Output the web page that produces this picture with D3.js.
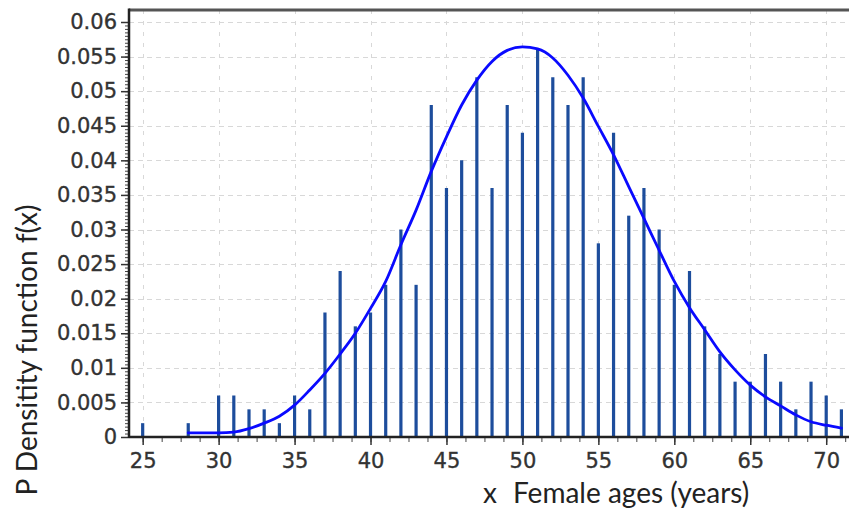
<!DOCTYPE html>
<html>
<head>
<meta charset="utf-8">
<script src="https://cdn.jsdelivr.net/npm/d3@7"></script>
<style>
  html, body { margin: 0; padding: 0; background: #fff; }
  svg { display: block; }
</style>
</head>
<body>
<svg id="chart" width="849" height="510"></svg>
<script>
// ---- data ----
const ages = [25, 28, 30, 31, 32, 33, 34, 35, 36, 37, 38, 39, 40, 41, 42, 43, 44, 45, 46, 47, 48,
  49, 50, 51, 52, 53, 54, 55, 56, 57, 58, 59, 60, 61, 62, 63, 64, 65, 66, 67, 68, 69, 70, 71];
const density = [0.002, 0.002, 0.006, 0.006, 0.004, 0.004, 0.002, 0.006, 0.004, 0.018, 0.024,
  0.016, 0.018, 0.022, 0.030, 0.022, 0.048, 0.036, 0.040, 0.052, 0.036, 0.048, 0.044, 0.056,
  0.052, 0.048, 0.052, 0.028, 0.044, 0.032, 0.036, 0.030, 0.022, 0.024, 0.016, 0.012, 0.008,
  0.008, 0.012, 0.008, 0.004, 0.008, 0.006, 0.004];
const curveX = [28, 29, 30, 31, 32, 33, 34, 35, 36, 37, 38, 39, 40, 41, 42, 43, 44, 45, 46, 47, 48,
  49, 50, 51, 52, 53, 54, 55, 56, 57, 58, 59, 60, 61, 62, 63, 64, 65, 66, 67, 68, 69, 70, 71];
const curveY = [0.0006, 0.0006, 0.0006, 0.0007, 0.0012, 0.0020, 0.0030, 0.0046, 0.0068, 0.0092,
  0.0120, 0.0150, 0.0186, 0.0225, 0.0278, 0.0328, 0.0384, 0.0434, 0.0480, 0.0516, 0.0543, 0.0559,
  0.0564, 0.0561, 0.0548, 0.0523, 0.0490, 0.0449, 0.0408, 0.0362, 0.0316, 0.0270, 0.0225, 0.0187,
  0.0155, 0.0123, 0.0097, 0.0075, 0.0058, 0.0045, 0.0032, 0.0022, 0.0017, 0.0013];
const xTicks = [25, 30, 35, 40, 45, 50, 55, 60, 65, 70];
const yTicks = [0, 0.005, 0.01, 0.015, 0.02, 0.025, 0.03, 0.035, 0.04, 0.045, 0.05, 0.055, 0.06];
const yTickLabels = ["0", "0.005", "0.01", "0.015", "0.02", "0.025", "0.03", "0.035", "0.04",
  "0.045", "0.05", "0.055", "0.06"];
const yTitle = "P Densitity function f(x)";
const xTitleVar = "x";
const xTitle = "Female ages (years)";

// ---- layout ----
const svg = d3.select("#chart");
const pLeft = 129, pRight = 849, pTop = 10, pBottom = 437;
const x = d3.scaleLinear().domain([24.1, 71.5]).range([pLeft, pRight]);
const y = d3.scaleLinear().domain([0, 0.06]).range([pBottom, 22]);

const labelFont = "'DejaVu Sans', Verdana, sans-serif";
const titleFont = "Lato, 'Open Sans', sans-serif";

// grid
const grid = svg.append("g");
grid.selectAll("line.h").data(yTicks.slice(1)).join("line")
  .attr("x1", pLeft).attr("x2", pRight)
  .attr("y1", d => Math.round(y(d)) + 0.5).attr("y2", d => Math.round(y(d)) + 0.5)
  .attr("stroke", "#d8d8d8").attr("stroke-width", 1).attr("stroke-dasharray", "5,4");
grid.selectAll("line.v").data(xTicks).join("line")
  .attr("x1", d => Math.round(x(d)) + 0.5).attr("x2", d => Math.round(x(d)) + 0.5)
  .attr("y1", pTop).attr("y2", pBottom)
  .attr("stroke", "#d8d8d8").attr("stroke-width", 1).attr("stroke-dasharray", "4,7");

// bars
svg.append("g").selectAll("line").data(ages).join("line")
  .attr("x1", d => x(d)).attr("x2", d => x(d))
  .attr("y1", y(0)).attr("y2", (d, i) => y(density[i]))
  .attr("stroke", "#1d4d9c").attr("stroke-width", 3.2);

// curve
const pts = curveX.map((d, i) => [d, curveY[i]]);
svg.append("path").datum(pts)
  .attr("fill", "none").attr("stroke", "#0a0aff").attr("stroke-width", 2.8)
  .attr("stroke-linejoin", "round").attr("stroke-linecap", "round")
  .attr("d", d3.line().x(d => x(d[0])).y(d => y(d[1])).curve(d3.curveMonotoneX));

// top border
svg.append("line").attr("x1", pLeft).attr("x2", pRight).attr("y1", pTop).attr("y2", pTop)
  .attr("stroke", "#555").attr("stroke-width", 3);

// y axis minor ticks
const yMinor = d3.range(0, 121).map(i => i * 0.0005);
svg.append("g").attr("transform", `translate(${pLeft},0)`)
  .call(d3.axisLeft(y).tickValues(yMinor).tickSize(4).tickFormat(""))
  .call(g => g.select(".domain").remove())
  .call(g => g.selectAll("line").attr("stroke", "#444"));
// y axis major
const yAx = svg.append("g").attr("transform", `translate(${pLeft},0)`)
  .call(d3.axisLeft(y).tickValues(yTicks).tickSize(8).tickPadding(4)
    .tickFormat((d, i) => yTickLabels[i]))
  .call(g => g.select(".domain").remove());
yAx.selectAll("line").attr("stroke", "#333").attr("stroke-width", 1.5);
yAx.selectAll("text").attr("font-family", labelFont).attr("font-size", 21).attr("fill", "#333")
  .attr("stroke", "#333").attr("stroke-width", 0.35);

// x axis minor ticks
const xMinor = d3.range(0, 38).map(i => 25 + i * 1.25);
svg.append("g").attr("transform", `translate(0,${pBottom})`)
  .call(d3.axisBottom(x).tickValues(xMinor).tickSize(5).tickFormat(""))
  .call(g => g.select(".domain").remove())
  .call(g => g.selectAll("line").attr("stroke", "#444"));
const xAx = svg.append("g").attr("transform", `translate(0,${pBottom})`)
  .call(d3.axisBottom(x).tickValues(xTicks).tickSize(8).tickPadding(8))
  .call(g => g.select(".domain").remove());
xAx.selectAll("line").attr("stroke", "#333").attr("stroke-width", 1.5);
xAx.selectAll("text").attr("font-family", labelFont).attr("font-size", 21).attr("fill", "#333")
  .attr("stroke", "#333").attr("stroke-width", 0.35);

// axis lines
svg.append("line").attr("x1", pLeft).attr("x2", pLeft).attr("y1", pTop - 1.5).attr("y2", pBottom + 1)
  .attr("stroke", "#222").attr("stroke-width", 2.5);
svg.append("line").attr("x1", pLeft).attr("x2", pRight).attr("y1", pBottom).attr("y2", pBottom)
  .attr("stroke", "#222").attr("stroke-width", 2.5);

// titles
svg.append("text")
  .attr("transform", `translate(37,350) rotate(-90)`)
  .attr("text-anchor", "middle")
  .attr("font-family", titleFont).attr("font-size", 28).attr("fill", "#222")
  .text(yTitle);
svg.append("text").attr("x", 483).attr("y", 503)
  .attr("font-family", titleFont).attr("font-size", 28).attr("fill", "#222")
  .text(xTitleVar);
svg.append("text").attr("x", 513).attr("y", 503)
  .attr("font-family", titleFont).attr("font-size", 28).attr("fill", "#222")
  .text(xTitle);
</script>
</body>
</html>
